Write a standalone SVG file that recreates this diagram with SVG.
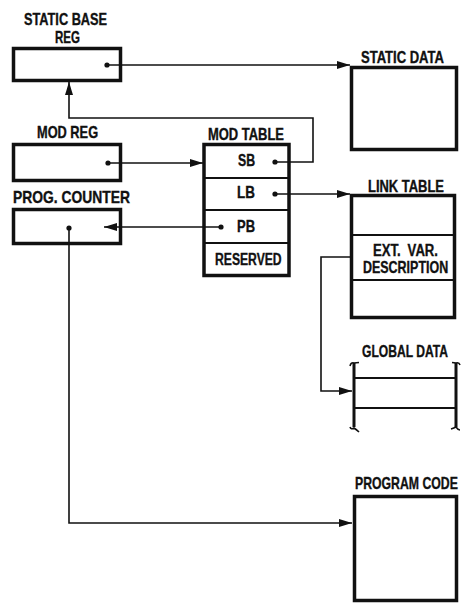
<svg xmlns="http://www.w3.org/2000/svg" width="465" height="604" viewBox="0 0 465 604">
<style>
text{font-family:"Liberation Sans",Arial,sans-serif;font-weight:bold;font-size:16px;fill:#111;stroke:#111;stroke-width:0.35;}
.box{fill:#fff;stroke:#111;stroke-width:3.5;}
.sep{stroke:#111;stroke-width:2;fill:none;}
.conn{stroke:#111;stroke-width:1.6;fill:none;}
.dot{fill:#111;}
</style>
<defs>
<marker id="ah" viewBox="0 0 13 8" refX="13" refY="4" markerWidth="13" markerHeight="8" markerUnits="userSpaceOnUse" orient="auto">
<path d="M0,0 L13,4 L0,8 Z" fill="#111"/>
</marker>
</defs>
<g id="static-base-reg">
<text transform="translate(24,25) scale(0.797,1)">STATIC BASE</text>
<text transform="translate(55,43) scale(0.72,1)">REG</text>
<rect class="box" x="13.5" y="48.5" width="107" height="32"/>
<circle class="dot" cx="107" cy="65" r="2.6"/>
</g>
<g id="mod-reg">
<text transform="translate(37,138) scale(0.8,1)">MOD REG</text>
<rect class="box" x="13.5" y="144.5" width="107" height="36"/>
<circle class="dot" cx="108" cy="163" r="2.6"/>
</g>
<g id="prog-counter">
<text transform="translate(13,203) scale(0.866,1)">PROG. COUNTER</text>
<rect class="box" x="13.5" y="209.5" width="107" height="34"/>
<circle class="dot" cx="69" cy="228" r="2.6"/>
</g>
<g id="mod-table">
<text transform="translate(208,140) scale(0.81,1)">MOD TABLE</text>
<rect class="box" x="204" y="144.5" width="85" height="131"/>
<line class="sep" x1="204" y1="178" x2="289" y2="178"/>
<line class="sep" x1="204" y1="210" x2="289" y2="210"/>
<line class="sep" x1="204" y1="243" x2="289" y2="243"/>
<text transform="translate(238,166) scale(0.77,1)">SB</text>
<text transform="translate(237,198) scale(0.84,1)">LB</text>
<text transform="translate(237,232) scale(0.81,1)">PB</text>
<text transform="translate(215,265) scale(0.76,1)">RESERVED</text>
<circle class="dot" cx="275" cy="162" r="2.6"/>
<circle class="dot" cx="275" cy="194" r="2.6"/>
<circle class="dot" cx="221" cy="227" r="2.6"/>
</g>
<g id="static-data">
<text transform="translate(361,63) scale(0.815,1)">STATIC DATA</text>
<rect class="box" x="351.5" y="67.5" width="105" height="82"/>
</g>
<g id="link-table">
<text transform="translate(368,192) scale(0.81,1)">LINK TABLE</text>
<rect class="box" x="351.5" y="195.5" width="103" height="122"/>
<line class="sep" x1="351.5" y1="235" x2="454.5" y2="235"/>
<line class="sep" x1="351.5" y1="280" x2="454.5" y2="280"/>
<text transform="translate(373,256) scale(0.82,1)" word-spacing="4">EXT. VAR.</text>
<text transform="translate(363,273) scale(0.78,1)">DESCRIPTION</text>
</g>
<g id="global-data">
<text transform="translate(362,357) scale(0.756,1)">GLOBAL DATA</text>
<line x1="354" y1="363" x2="354" y2="427" stroke="#111" stroke-width="3"/>
<line x1="456" y1="363" x2="456" y2="427" stroke="#111" stroke-width="3"/>
<path class="conn" d="M350,366 Q351,362 354,363 L359,362.5"/>
<path class="conn" d="M350,427 Q351,430 354,428 Q357,430 359,432"/>
<path class="conn" d="M452,362.5 L456,363 Q459,362 460,365"/>
<path class="conn" d="M451,429 Q454,428 456,427 Q458,430 460,430"/>
<line class="sep" x1="354" y1="378" x2="456" y2="378"/>
<line class="sep" x1="354" y1="408" x2="456" y2="408"/>
</g>
<g id="program-code">
<text transform="translate(355,489) scale(0.767,1)">PROGRAM CODE</text>
<rect class="box" x="354.5" y="496.5" width="102" height="104"/>
</g>
<g id="connectors">
<polyline class="conn" points="107,65 350,65" marker-end="url(#ah)"/>
<polyline class="conn" points="275,162 313,162 313,118 69,118 69,82" marker-end="url(#ah)"/>
<polyline class="conn" points="108,163 203,163" marker-end="url(#ah)"/>
<polyline class="conn" points="275,194 350,194" marker-end="url(#ah)"/>
<polyline class="conn" points="221,227 104,227" marker-end="url(#ah)"/>
<polyline class="conn" points="69,228 69,523 352,523" marker-end="url(#ah)"/>
<polyline class="conn" points="350,257 321,257 321,391 352,391" marker-end="url(#ah)"/>
</g>
</svg>
